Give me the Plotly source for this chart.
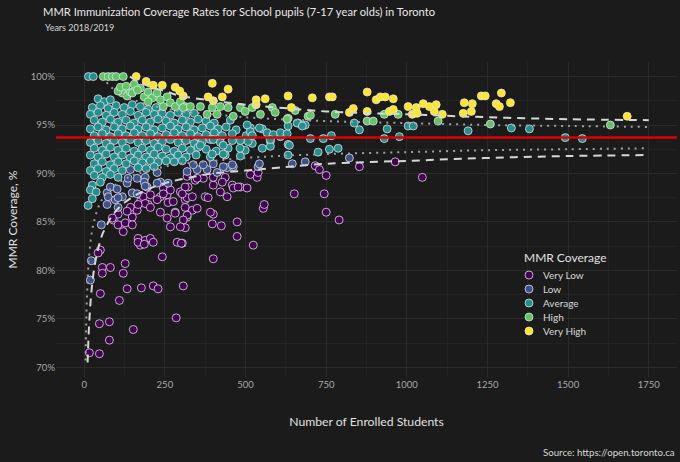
import plotly.graph_objects as go

# coverage classes (viridis, as in the original)
categories = ["Very Low", "Low", "Average", "High", "Very High"]
class_colors = ["#440154", "#3b528b", "#21908c", "#5dc863", "#fde725"]

# (enrolled students, MMR coverage %)
very_low = [
    (143, 86.5), (164, 86.2), (149, 85.5), (174, 87.1), (183, 87.6), (205, 87.8), (198, 86.8),
    (236, 87.6), (245, 88.5), (257, 87.8), (260, 87.0), (236, 86.0), (257, 85.4), (282, 86.0),
    (298, 88.1), (313, 87.3), (319, 85.5), (313, 84.4), (267, 84.5), (90, 85.2), (105, 84.7),
    (127, 84.9), (121, 84.0), (149, 84.7), (167, 83.3), (189, 83.1), (205, 83.3), (174, 82.6),
    (288, 82.9), (242, 81.4), (50, 82.1), (43, 81.8), (56, 80.3), (81, 80.3), (127, 80.7),
    (56, 79.7), (322, 88.6), (344, 89.3), (369, 89.5), (400, 88.8), (437, 89.6), (459, 88.8),
    (462, 88.5), (484, 88.6), (505, 88.5), (515, 89.9), (536, 89.6), (539, 90.1), (319, 87.5),
    (335, 87.6), (375, 87.6), (384, 87.5), (422, 88.1), (443, 87.6), (313, 86.5), (335, 86.2),
    (319, 85.7), (307, 85.2), (304, 82.8), (400, 85.8), (397, 84.8), (425, 84.6), (474, 85.0),
    (474, 83.5), (524, 82.6), (400, 81.2), (555, 86.4), (558, 86.8), (651, 87.9), (744, 87.9),
    (750, 86.0), (790, 85.2), (121, 79.7), (50, 77.6), (133, 78.1), (177, 78.2), (214, 78.4),
    (229, 78.1), (307, 78.4), (109, 76.9), (47, 74.5), (78, 74.7), (152, 73.9), (285, 75.1),
    (78, 72.8), (16, 71.5), (47, 71.4), (167, 82.9), (186, 82.7), (214, 82.9), (301, 82.8),
    (716, 90.8), (729, 90.4), (750, 89.8), (853, 90.7), (964, 91.2), (1048, 89.6),
    (319, 89.7), (350, 89.5), (400, 89.6), (428, 89.1), (477, 88.6), (313, 88.6), (304, 87.9),
    (267, 88.3), (245, 87.9), (226, 87.3), (276, 87.1), (189, 86.9), (167, 86.8), (205, 86.5),
    (133, 86.1), (105, 85.8), (87, 85.4), (282, 85.9), (391, 86.0), (298, 84.5), (350, 86.4),
]
low = [
    (22, 81.0), (19, 79.0), (53, 84.7), (71, 86.8), (71, 88.0), (81, 88.6), (96, 87.3),
    (105, 86.5), (118, 87.6), (133, 89.0), (143, 90.4), (149, 88.0), (164, 89.5), (189, 89.6),
    (195, 88.6), (226, 90.1), (236, 89.1), (260, 89.0), (319, 90.2), (350, 90.4), (381, 90.4),
    (412, 90.1), (443, 90.6), (462, 90.7), (539, 90.7), (338, 90.9), (369, 90.9), (400, 91.0),
    (431, 90.7), (459, 90.9), (543, 91.0), (645, 91.0), (685, 91.2), (822, 91.6), (136, 89.5),
    (186, 89.1), (74, 87.6), (102, 88.4), (189, 88.7), (164, 87.9), (226, 89.0), (105, 87.5),
]
average = [
    (13, 100.0), (28, 100.0), (12, 86.7),
    (43, 97.7), (62, 97.4), (81, 97.6),
    (25, 96.8), (50, 97.0), (74, 96.7), (99, 97.0), (124, 96.8), (149, 97.1), (174, 96.9),
    (198, 96.6), (223, 96.8),
    (19, 96.1), (43, 96.3), (68, 96.0), (93, 96.3), (118, 96.1), (143, 96.4), (167, 96.0),
    (192, 96.3), (217, 96.1), (242, 96.2), (267, 96.0), (291, 96.3), (316, 96.1), (341, 96.2),
    (31, 95.5), (56, 95.3), (81, 95.6), (105, 95.3), (130, 95.5), (155, 95.2), (180, 95.5),
    (205, 95.3), (229, 95.6), (254, 95.4), (279, 95.2), (304, 95.5), (329, 95.3), (353, 95.6),
    (378, 95.4), (403, 95.2), (453, 95.5),
    (19, 94.6), (43, 94.8), (68, 94.5), (93, 94.8), (118, 94.6), (143, 94.9), (167, 94.6),
    (192, 94.8), (217, 94.5), (242, 94.7), (267, 94.9), (291, 94.6), (316, 94.8), (341, 94.5),
    (366, 94.7), (391, 94.9), (415, 94.6), (440, 94.8), (471, 94.5), (515, 94.7), (552, 94.6),
    (31, 93.9), (56, 94.1), (81, 93.8), (105, 94.1), (130, 93.9), (155, 94.2), (180, 93.9),
    (205, 94.1), (229, 93.8), (254, 94.0), (279, 94.2), (304, 93.9), (329, 94.1), (353, 93.8),
    (378, 94.0), (403, 94.2), (428, 93.9), (459, 94.1), (502, 93.9), (570, 94.0), (608, 93.8),
    (19, 93.2), (43, 93.4), (68, 93.1), (93, 93.4), (118, 93.2), (143, 93.5), (167, 93.2),
    (192, 93.4), (217, 93.1), (242, 93.3), (267, 93.5), (291, 93.2), (316, 93.4), (341, 93.1),
    (366, 93.3), (391, 93.5), (422, 93.2), (484, 93.4), (521, 93.1), (577, 93.3),
    (31, 92.6), (56, 92.4), (81, 92.7), (105, 92.4), (130, 92.6), (155, 92.3), (180, 92.6),
    (205, 92.4), (229, 92.7), (254, 92.5), (279, 92.3), (304, 92.6), (329, 92.4), (353, 92.7),
    (378, 92.5), (409, 92.3), (446, 92.6), (499, 92.4), (552, 92.6),
    (19, 91.9), (43, 91.7), (68, 92.0), (93, 91.7), (118, 91.9), (143, 91.6), (167, 91.9),
    (192, 91.7), (217, 92.0), (242, 91.8), (267, 91.6), (291, 91.9), (316, 91.7), (347, 91.9),
    (391, 91.7), (437, 91.9), (484, 91.8),
    (31, 91.0), (56, 91.2), (81, 90.9), (105, 91.2), (130, 91.0), (155, 91.3), (180, 91.1),
    (205, 91.3), (229, 91.2), (254, 91.3), (279, 91.2), (304, 91.3),
    (19, 90.3), (43, 90.5), (68, 90.2), (93, 90.5), (118, 90.3), (167, 90.6), (192, 90.5),
    (217, 90.7),
    (31, 89.8), (56, 89.6), (81, 89.9), (105, 89.6), (25, 88.8), (50, 89.1), (19, 88.3),
    (37, 88.1), (25, 87.4),
    (505, 95.0), (543, 94.7), (567, 94.2), (586, 94.0), (608, 94.2), (629, 94.1), (663, 95.2),
    (685, 95.0), (632, 93.0), (632, 91.9), (577, 92.8), (577, 93.5), (483, 92.6), (459, 93.4),
    (431, 92.9), (431, 92.0), (400, 93.5), (397, 92.0), (360, 92.9), (508, 93.3), (515, 94.3),
    (521, 93.9), (632, 94.9), (660, 95.2), (676, 94.9), (701, 93.6), (741, 93.6), (766, 93.9),
    (636, 92.9), (725, 92.2), (760, 92.5), (787, 92.6), (837, 95.2), (853, 94.5), (930, 93.6),
    (939, 94.6), (977, 93.8), (1004, 94.9), (1020, 94.9), (1190, 94.4), (1324, 94.7),
    (1380, 94.6), (1491, 93.7), (1544, 93.6),
]
high = [
    (59, 100.0), (74, 100.0), (87, 100.0), (99, 100.0), (121, 100.0),
    (118, 98.3), (133, 98.0), (143, 98.4), (149, 98.3), (174, 98.8), (186, 97.9), (198, 98.4),
    (211, 97.8), (226, 98.3), (236, 97.6), (257, 97.9), (267, 97.3), (282, 96.9), (298, 97.4),
    (313, 96.9), (245, 96.9), (198, 97.4), (307, 96.8), (329, 96.9), (360, 96.9), (381, 96.1),
    (397, 96.8), (412, 96.1), (422, 96.9), (446, 96.8), (462, 95.9), (484, 96.8), (499, 96.4),
    (521, 96.8), (546, 96.1), (583, 96.8), (592, 96.3), (632, 95.7), (654, 96.5), (694, 95.9),
    (629, 95.6), (701, 96.0), (778, 96.1), (877, 95.4), (896, 95.4), (930, 96.1), (973, 96.1),
    (1097, 95.4), (1259, 95.1), (1631, 95.0), (105, 98.5), (112, 98.9), (130, 99.0),
    (155, 99.2), (165, 98.6),
]
very_high = [
    (161, 100.0), (192, 99.5), (214, 99.1), (242, 99.1), (282, 98.9), (307, 98.0), (296, 98.5),
    (397, 99.3), (446, 98.7), (384, 97.9), (400, 97.5), (428, 97.9), (533, 97.6), (533, 97.1),
    (561, 97.7), (632, 98.0), (642, 96.8), (707, 97.8), (760, 97.9), (769, 97.9), (877, 98.4),
    (905, 97.6), (918, 97.9), (933, 97.9), (958, 97.7), (1004, 96.9), (1029, 96.8),
    (1051, 97.2), (1017, 96.1), (1070, 96.9), (1085, 96.4), (1091, 97.1), (1110, 96.1),
    (1178, 97.3), (1203, 97.2), (1175, 96.2), (1200, 96.4), (1231, 98.0), (1243, 98.0),
    (1293, 98.3), (1277, 97.2), (1287, 96.9), (1321, 97.3), (1683, 95.9), (822, 96.3),
    (834, 96.7), (877, 96.4), (946, 96.4), (958, 96.6), (1032, 96.2),
]
class_points = [very_low, low, average, high, very_high]

# overall coverage and funnel limits
mean_coverage = 93.7
limit_n = [4.3, 6, 8, 10.5, 12, 15, 20, 25, 30, 40, 50, 57, 60, 80, 100, 125, 142, 150,
           200, 250, 300, 400, 500, 600, 750, 1000, 1250, 1500, 1750]
lower_95 = [70.7, 74.3, 76.9, 78.8, 80.0, 81.4, 83.1, 84.2, 85.0, 86.2, 87.0, 87.4, 87.6,
            88.4, 88.9, 89.4, 89.7, 89.8, 90.3, 90.7, 91.0, 91.3, 91.6, 91.8, 92.0, 92.2,
            92.4, 92.5, 92.6]
upper_95 = [None] * 11 + [100.0, 99.85, 99.0, 98.5, 98.0, 97.7, 97.6, 97.1, 96.7, 96.4,
                          96.1, 95.8, 95.6, 95.4, 95.2, 95.0, 94.9, 94.8]
lower_998 = [None, None, None, 70.5, 72.0, 74.3, 76.9, 78.7, 80.0, 81.8, 83.1, 83.8, 84.0,
             85.3, 86.2, 87.0, 87.4, 87.6, 88.4, 89.0, 89.4, 90.0, 90.3, 90.6, 91.0, 91.3,
             91.6, 91.8, 91.9]
upper_998 = [None] * 16 + [100.0, 99.8, 99.0, 98.5, 98.0, 97.5, 97.1, 96.8, 96.4, 96.1,
                           95.8, 95.6, 95.5]

x_ticks = [0, 250, 500, 750, 1000, 1250, 1500, 1750]
y_ticks = [70, 75, 80, 85, 90, 95, 100]
y_tick_text = ["70%", "75%", "80%", "85%", "90%", "95%", "100%"]

W, H = 680, 462
L, R, T, B = 56, 3, 62, 85          # plot area margins in px
PW, PH = W - L - R, H - T - B

BG = "#1b1b1b"
GRID = "#2a2a2a"
MINOR = "#232323"
FONT = "Lato"
MARKER_LINE = "rgba(235,225,240,0.75)"


def px_x(px):
    return (px - L) / PW


def px_y(py):
    return (H - B - py) / PH


fig = go.Figure()

for name, color, pts in zip(categories, class_colors, class_points):
    fig.add_trace(go.Scatter(
        x=[p[0] for p in pts], y=[p[1] for p in pts],
        mode="markers", name=name, showlegend=False,
        marker=dict(color=color, size=8, line=dict(color=MARKER_LINE, width=1)),
    ))

# funnel limits: dotted = 95%, dashed = 99.8%
for lim, dash, col in [(lower_95, "2px,5px", "#a0a0a0"), (upper_95, "2px,5px", "#a0a0a0"),
                       (lower_998, "8px,6px", "#d6d6d6"), (upper_998, "8px,6px", "#d6d6d6")]:
    fig.add_trace(go.Scatter(
        x=limit_n, y=lim, mode="lines", showlegend=False, hoverinfo="skip",
        line=dict(color=col, width=2, dash=dash, shape="spline"), connectgaps=False,
    ))

# legend drawn by hand so the rows can sit 14px apart
annotations = [
    dict(text="MMR Coverage", x=px_x(522), y=px_y(257), xanchor="left", yanchor="middle",
         font=dict(size=12, color="#e0e0e0")),
]
shapes = []
for i, (name, color) in enumerate(zip(categories, class_colors)):
    cy = px_y(275 + 14 * i)
    shapes.append(dict(
        type="circle", xref="paper", yref="paper", xsizemode="pixel", ysizemode="pixel",
        xanchor=px_x(529), yanchor=cy, x0=-4, x1=4, y0=-4, y1=4,
        fillcolor=color, line=dict(color=MARKER_LINE, width=1),
    ))
    annotations.append(dict(text=name, x=px_x(541), y=cy, xanchor="left", yanchor="middle",
                            font=dict(size=10, color="#d8d8d8")))

annotations += [
    dict(text="Years 2018/2019", x=px_x(43), y=px_y(28), xanchor="left", yanchor="middle",
         font=dict(size=9, color="#d8d8d8")),
    dict(text="Source: https://open.toronto.ca", x=px_x(677), y=px_y(452), xanchor="right",
         yanchor="middle", font=dict(size=9.7, color="#d8d8d8")),
]
for a in annotations:
    a.update(xref="paper", yref="paper", showarrow=False)

fig.update_layout(
    width=W, height=H,
    paper_bgcolor=BG, plot_bgcolor=BG,
    margin=dict(l=L, r=R, t=T, b=B, autoexpand=False),
    font=dict(family=FONT, color="#e0e0e0"),
    title=dict(
        text="MMR Immunization Coverage Rates for School pupils (7-17 year olds) in Toronto",
        x=43 / W, xref="container", xanchor="left",
        y=1 - 12 / H, yref="container", yanchor="middle",
        font=dict(size=11.2, color="#e8e8e8", family=FONT),
    ),
    showlegend=False,
    annotations=annotations,
    shapes=shapes,
)

# mean coverage line, added after the legend shapes
fig.add_hline(y=mean_coverage, line_color="#e00000", line_width=2.5)

fig.update_xaxes(
    range=[-87.5, 1837.5], tickvals=x_ticks, ticks="", showline=False, zeroline=False,
    automargin=False, gridcolor=GRID, gridwidth=1,
    minor=dict(dtick=125, tick0=-125, showgrid=True, gridcolor=MINOR),
    tickfont=dict(size=9.5, color="#a8a8a8"),
    title=dict(text="Number of Enrolled Students", standoff=28,
               font=dict(size=12.2, color="#e0e0e0")),
)
fig.update_yaxes(
    range=[69.0, 101.5], tickvals=y_ticks, ticktext=y_tick_text, ticks="", showline=False,
    zeroline=False, automargin=False, gridcolor=GRID, gridwidth=1,
    minor=dict(dtick=2.5, tick0=67.5, showgrid=True, gridcolor=MINOR),
    tickfont=dict(size=9.5, color="#a8a8a8"),
    title=dict(text="MMR Coverage, %", standoff=10, font=dict(size=12, color="#e0e0e0")),
)

# page body margin would otherwise shift the figure by 8px
fig.write_html("out.html", config={"displayModeBar": False},
               post_script="document.body.style.margin='0';")
